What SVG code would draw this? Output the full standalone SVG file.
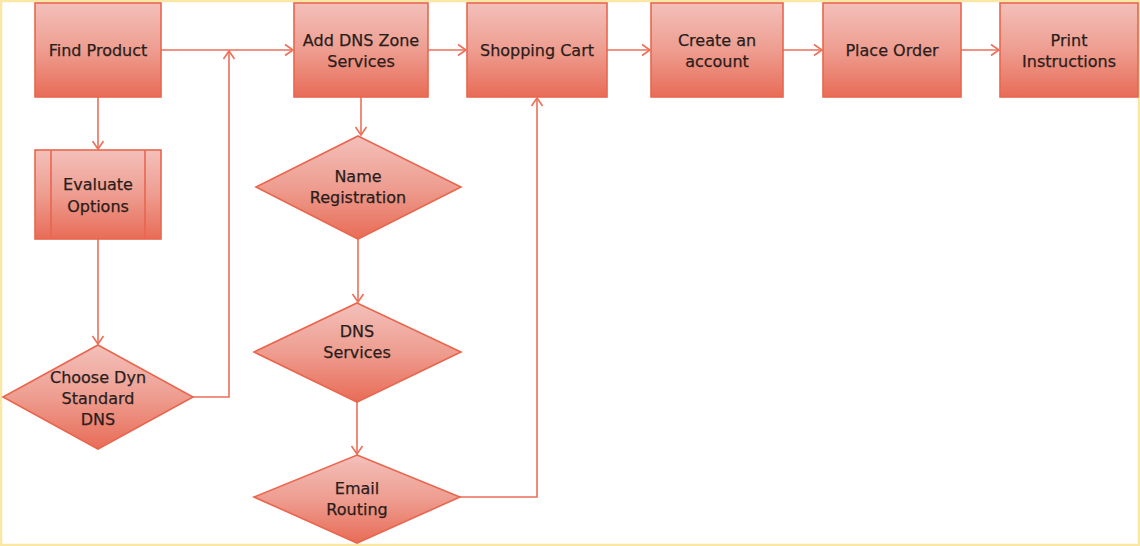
<svg xmlns="http://www.w3.org/2000/svg" width="1140" height="546" viewBox="0 0 1140 546">
<defs>
<linearGradient id="g" x1="0" y1="0" x2="0" y2="1">
<stop offset="0" stop-color="#f3c0ba"/>
<stop offset="0.5" stop-color="#ee9d90"/>
<stop offset="1" stop-color="#e86c57"/>
</linearGradient>
<marker id="a" markerWidth="12" markerHeight="14" refX="10" refY="7" orient="auto" markerUnits="userSpaceOnUse">
<path d="M2,1.5 L10,7 L2,12.5" fill="none" stroke="#ec6f5a" stroke-width="1.6"/>
</marker>
</defs>
<style>
.n{fill:url(#g);stroke:#e9664e;stroke-width:1.6}
.c{fill:none;stroke:#ec6f5a;stroke-width:1.6;marker-end:url(#a)}
text{font-family:"DejaVu Sans","Liberation Sans",sans-serif;font-size:16px;fill:#2b1d1b;text-anchor:middle;stroke:#2b1d1b;stroke-width:0.25}
</style>
<rect x="1" y="1" width="1138" height="544" fill="#fff" stroke="#fbe7a4" stroke-width="2.5"/>
<g id="connectors">
<path class="c" d="M161,50 H293"/>
<path class="c" d="M193,397 H229 V51"/>
<path class="c" d="M98,97 V149"/>
<path class="c" d="M98,239 V344"/>
<path class="c" d="M361,97 V135"/>
<path class="c" d="M358,239 V302"/>
<path class="c" d="M357,402 V454"/>
<path class="c" d="M460,497 H537 V98"/>
<path class="c" d="M428,50 H466"/>
<path class="c" d="M607,50 H650"/>
<path class="c" d="M783,50 H822"/>
<path class="c" d="M961,50 H999"/>
</g>
<g id="find-product"><rect class="n" x="35" y="3" width="126" height="94"/><text x="98" y="56">Find Product</text></g>
<g id="evaluate-options"><rect class="n" x="35" y="150" width="126" height="89"/><line x1="51" y1="150" x2="51" y2="239" stroke="#e9664e" stroke-width="1.6"/><line x1="145" y1="150" x2="145" y2="239" stroke="#e9664e" stroke-width="1.6"/><text x="98" y="190">Evaluate</text><text x="98" y="212">Options</text></g>
<g id="choose-dyn"><polygon class="n" points="98,345 193,397 98,449 3,397"/><text x="98" y="383">Choose Dyn</text><text x="98" y="404">Standard</text><text x="98" y="425">DNS</text></g>
<g id="add-dns"><rect class="n" x="294" y="3" width="134" height="94"/><text x="361" y="46">Add DNS Zone</text><text x="361" y="67">Services</text></g>
<g id="shopping-cart"><rect class="n" x="467" y="3" width="140" height="94"/><text x="537" y="56">Shopping Cart</text></g>
<g id="create-account"><rect class="n" x="651" y="3" width="132" height="94"/><text x="717" y="46">Create an</text><text x="717" y="67">account</text></g>
<g id="place-order"><rect class="n" x="823" y="3" width="138" height="94"/><text x="892" y="56">Place Order</text></g>
<g id="print-instructions"><rect class="n" x="1000" y="3" width="138" height="94"/><text x="1069" y="46">Print</text><text x="1069" y="67">Instructions</text></g>
<g id="name-registration"><polygon class="n" points="358,136 461,187 358,239 256,187"/><text x="358" y="182">Name</text><text x="358" y="203">Registration</text></g>
<g id="dns-services"><polygon class="n" points="357,303 461,352 357,402 254,352"/><text x="357" y="337">DNS</text><text x="357" y="358">Services</text></g>
<g id="email-routing"><polygon class="n" points="357,455 460,497 357,543 254,497"/><text x="357" y="494">Email</text><text x="357" y="515">Routing</text></g>
</svg>
